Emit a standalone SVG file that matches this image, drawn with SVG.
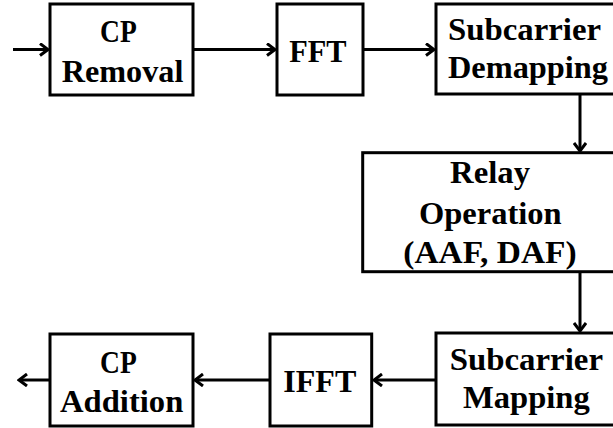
<svg xmlns="http://www.w3.org/2000/svg" width="613" height="428" viewBox="0 0 613 428">
<style>
.box{fill:#fff;stroke:#000;stroke-width:3}
.t{font-family:"Liberation Serif","Times New Roman",serif;font-weight:bold;font-size:31px;fill:#000}
.c{fill:none;stroke:#000;stroke-width:3}
</style>
<defs>
<marker id="ah" viewBox="0 0 12 14" refX="10" refY="7" markerWidth="12" markerHeight="14" markerUnits="userSpaceOnUse" orient="auto">
<path d="M2,1 L10,7 L2,13" fill="none" stroke="#000" stroke-width="3"/>
</marker>
</defs>
<rect width="613" height="428" fill="#fff"/>
<g id="connectors">
<line class="c" x1="13" y1="49.5" x2="48" y2="49.5" marker-end="url(#ah)"/>
<line class="c" x1="193" y1="49.5" x2="275" y2="49.5" marker-end="url(#ah)"/>
<line class="c" x1="363" y1="49.5" x2="434" y2="49.5" marker-end="url(#ah)"/>
<line class="c" x1="580" y1="95" x2="580" y2="151" marker-end="url(#ah)"/>
<line class="c" x1="580" y1="272" x2="580" y2="331" marker-end="url(#ah)"/>
<line class="c" x1="436" y1="380" x2="374" y2="380" marker-end="url(#ah)"/>
<line class="c" x1="270" y1="380" x2="195" y2="380" marker-end="url(#ah)"/>
<line class="c" x1="50" y1="380" x2="19" y2="380" marker-end="url(#ah)"/>
</g>
<g id="cp-removal">
<rect class="box" x="50" y="4" width="143" height="91"/>
<text class="t" x="100" y="41.7" textLength="36.7" lengthAdjust="spacingAndGlyphs">CP</text>
<text class="t" x="61.7" y="81.7" textLength="121.7" lengthAdjust="spacingAndGlyphs">Removal</text>
</g>
<g id="fft">
<rect class="box" x="277" y="4" width="86" height="91"/>
<text class="t" x="289.3" y="61.7" textLength="57.3" lengthAdjust="spacingAndGlyphs">FFT</text>
</g>
<g id="subcarrier-demapping">
<rect class="box" x="436" y="4" width="190" height="90"/>
<text class="t" x="448" y="40" textLength="153" lengthAdjust="spacingAndGlyphs">Subcarrier</text>
<text class="t" x="448" y="77.5" textLength="160" lengthAdjust="spacingAndGlyphs">Demapping</text>
</g>
<g id="relay-operation">
<rect class="box" x="362.7" y="152.7" width="270" height="119"/>
<text class="t" x="450" y="183.3" textLength="80" lengthAdjust="spacingAndGlyphs">Relay</text>
<text class="t" x="419" y="224.3" textLength="142.7" lengthAdjust="spacingAndGlyphs">Operation</text>
<text class="t" x="403.3" y="262.7" textLength="173.3" lengthAdjust="spacingAndGlyphs">(AAF, DAF)</text>
</g>
<g id="subcarrier-mapping">
<rect class="box" x="436" y="333" width="190" height="92"/>
<text class="t" x="449.7" y="370" textLength="153.3" lengthAdjust="spacingAndGlyphs">Subcarrier</text>
<text class="t" x="463" y="408.3" textLength="126.7" lengthAdjust="spacingAndGlyphs">Mapping</text>
</g>
<g id="ifft">
<rect class="box" x="270" y="334" width="101.7" height="92"/>
<text class="t" x="283.3" y="391.7" textLength="73" lengthAdjust="spacingAndGlyphs">IFFT</text>
</g>
<g id="cp-addition">
<rect class="box" x="50" y="334" width="143" height="92"/>
<text class="t" x="100" y="373.3" textLength="36.7" lengthAdjust="spacingAndGlyphs">CP</text>
<text class="t" x="60" y="411.7" textLength="123.3" lengthAdjust="spacingAndGlyphs">Addition</text>
</g>
</svg>
